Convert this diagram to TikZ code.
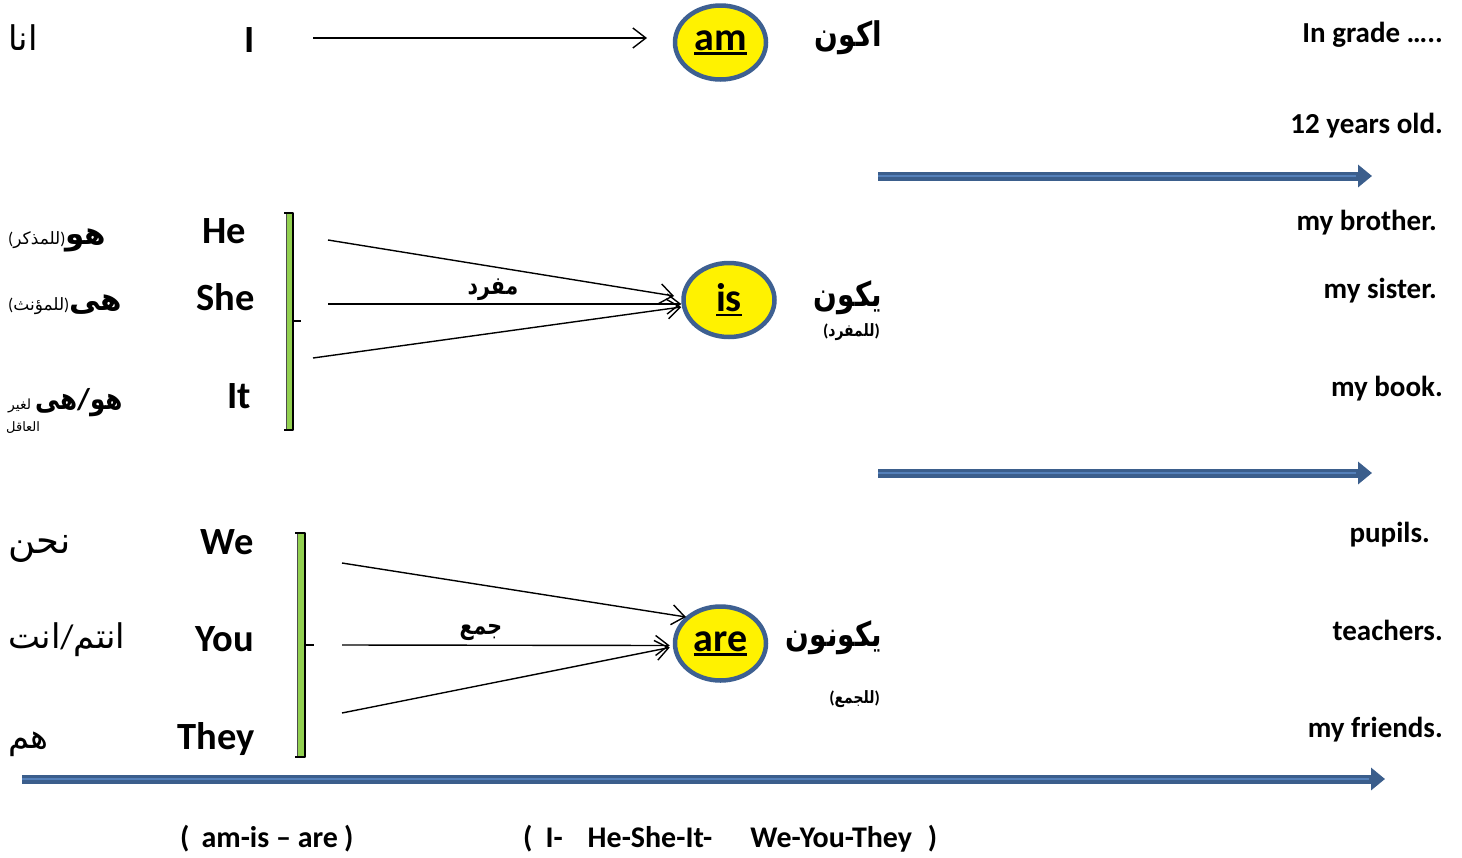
\documentclass[tikz,border=0pt]{standalone}
\usepackage{fontspec}
\setmainfont{Carlito}
\newfontfamily\ar[Script=Arabic]{DejaVu Sans}
\newfontfamily\arn[Script=Arabic,FakeStretch=0.82]{DejaVu Sans}
\TeXXeTstate=1
\usetikzlibrary{arrows.meta,shapes.geometric}
\definecolor{bl}{RGB}{59,94,140}
\definecolor{bllight}{RGB}{84,128,186}
\definecolor{gr}{RGB}{146,208,80}
\definecolor{ebl}{RGB}{62,96,145}
\newcommand{\fsz}[1]{\fontsize{#1}{#1}\selectfont}
\newcommand{\AR}[1]{{\ar\beginR #1\endR}}
\newcommand{\ARN}[1]{{\arn\beginR #1\endR}}
\newcommand{\ulx}[1]{\setbox0\hbox{#1}\rlap{\rule[-4.5pt]{\wd0}{2.6pt}}\box0}
\begin{document}
\begin{tikzpicture}[x=1pt,y=-1pt,
  pro/.style={font=\fsz{38.5}\bfseries, inner sep=0, anchor=base east},
  eng/.style={font=\fsz{29}\bfseries, inner sep=0, anchor=base east},
  bot/.style={font=\fsz{30}\bfseries, inner sep=0, anchor=base west},
  arl/.style={font=\fsz{34}, inner sep=0, anchor=base west},
  arr/.style={font=\fsz{34}\bfseries, inner sep=0, anchor=base east},
  arsmall/.style={font=\fsz{17}\bfseries, inner sep=0, anchor=base east},
  lbl/.style={font=\fsz{25}\bfseries, inner sep=0},
  verb/.style={ellipse, fill=yellow, draw=ebl, line width=4.5pt, minimum width=91pt, minimum height=74pt, inner sep=0, font=\fsz{40}\bfseries},
  thin/.style={line width=1.4pt, -{Straight Barb[length=13pt,width=20pt]}},
  bigarrow/.style={line width=9pt, draw=bl, -{Triangle[length=14pt,width=22pt]}},
  bigcore/.style={line width=1.5pt, draw=bllight, shorten >=16pt},
  bracket/.style={line width=1.5pt, line join=round}
]
\useasboundingbox (0,0) rectangle (1462,857);

% ---------- row I ----------
\node[arl] (ana) at (8,50) {\AR{انا}};
\node[pro] (I) at (255,52) {I};
\coordinate (Iarr) at (313,38);
\coordinate (Iend) at (647,38);
\node[verb] (am) at (720.5,42.5) {\ulx{am}};
\draw[thin] (Iarr) -- (Iend);
\node[arr] (akun) at (882,46) {\ARN{اكون}};

\node[eng] (grade) at (1443,42) {In grade …..};
\node[eng] (years) at (1443,133) {12 years old.};

% blue arrow 1
\coordinate (b1s) at (878,176);
\coordinate (b1e) at (1372,176);
\draw[bigarrow] (b1s) -- (b1e);
\draw[bigcore] (b1s) -- (b1e);

% ---------- He She It ----------
\node[inner sep=0, anchor=base west] (huwa) at (8,244) {{\fsz{17}(\AR{للمذكر})}{\fsz{31}\bfseries\AR{هو}}};
\node[inner sep=0, anchor=base west] (hiya) at (8,310) {{\fsz{17}(\AR{للمؤنث})}{\fsz{31}\bfseries\AR{هى}}};
\node[inner sep=0, anchor=base west] (huhi) at (8,409) {{\fsz{14}\AR{لغير}}\hspace{4pt}{\fsz{30}\bfseries\ARN{هى}/\ARN{هو}}};
\node[inner sep=0, anchor=base west, font=\fsz{13}] (aqil) at (6,431) {\AR{العاقل}};

\node[pro] (He) at (246,243) {He};
\node[pro] (She) at (255,310) {She};
\node[pro] (It) at (251,408) {It};

\fill[gr] (286,213) rectangle (293,430);
\draw[line width=0.8pt, black!70] (286,214) -- (286,429);
\draw[bracket] (284,213) -- (293,213) -- (293,430) -- (284,430);
\draw[bracket] (293,321) -- (301,321);

\node[verb] (is) at (729,300) {\ulx{is}};
\coordinate (s1) at (328,240);
\coordinate (s2) at (328,304);
\coordinate (s3) at (313,358);
\coordinate (t1) at (674,296);
\draw[thin] (s1) -- (t1);
\draw[thin] (s2) -- ([yshift=-4pt]is.west);
\draw[thin] (s3) -- ([yshift=-7pt]is.west);
\node[lbl] (mufrad) at (493,290) {\ARN{مفرد}};

\node[arr] (yakun) at (882,306) {\ARN{يكون}};
\node[arsmall] (lilmufrad) at (880,336) {(\ARN{للمفرد})};

\node[eng] (brother) at (1437,230) {my brother.};
\node[eng] (sister) at (1437,298) {my sister.};
\node[eng] (book) at (1443,396) {my book.};

% blue arrow 2
\coordinate (b2s) at (878,473);
\coordinate (b2e) at (1372,473);
\draw[bigarrow] (b2s) -- (b2e);
\draw[bigcore] (b2s) -- (b2e);

% ---------- We You They ----------
\node[arl, font=\fsz{37}] (nahnu) at (8,553) {\AR{نحن}};
\node[arl] (antum) at (8,648) {\AR{انت}/\AR{انتم}};
\node[arl] (hum) at (8,748) {\AR{هم}};

\node[pro] (We) at (254,554) {We};
\node[pro] (You) at (254,651) {You};
\node[pro] (They) at (255,749) {They};

\fill[gr] (297,533) rectangle (305,757);
\draw[line width=0.8pt, black!70] (297,534) -- (297,756);
\draw[bracket] (295,533) -- (305,533) -- (305,757) -- (295,757);
\draw[bracket] (305,645) -- (314,645);

\node[verb] (are) at (720.5,643.5) {\ulx{are}};
\coordinate (p1) at (342,563);
\coordinate (p2) at (342,645);
\coordinate (p3) at (342,713);
\coordinate (u1) at (686,617);
\draw[thin] (p1) -- (u1);
\draw[thin] (p2) -- ([shift={(-3pt,-2pt)}]are.west);
\draw[thin] (p3) -- ([shift={(-3pt,-4pt)}]are.west);
\node[lbl] (jam) at (481,632) {\ARN{جمع}};

\node[arr] (yakunun) at (882,646) {\ARN{يكونون}};
\node[arsmall] (liljam) at (880,703) {(\ARN{للجمع})};

\node[eng] (pupils) at (1430,542) {pupils.};
\node[eng] (teachers) at (1443,640) {teachers.};
\node[eng] (friends) at (1443,737) {my friends.};

% blue arrow 3
\coordinate (b3s) at (22,779);
\coordinate (b3e) at (1385,779);
\draw[bigarrow] (b3s) -- (b3e);
\draw[bigcore] (b3s) -- (b3e);

% ---------- bottom ----------
\node[bot] (verbs) at (180,847) {(\hspace{12pt}am-is – are\hspace{6pt})};
\node[bot] (pronouns) at (523,847) {(\hspace{13pt}I-\hspace{25pt}He-She-It-\hspace{38pt}We-You-They\hspace{16pt})};
\end{tikzpicture}
\end{document}
